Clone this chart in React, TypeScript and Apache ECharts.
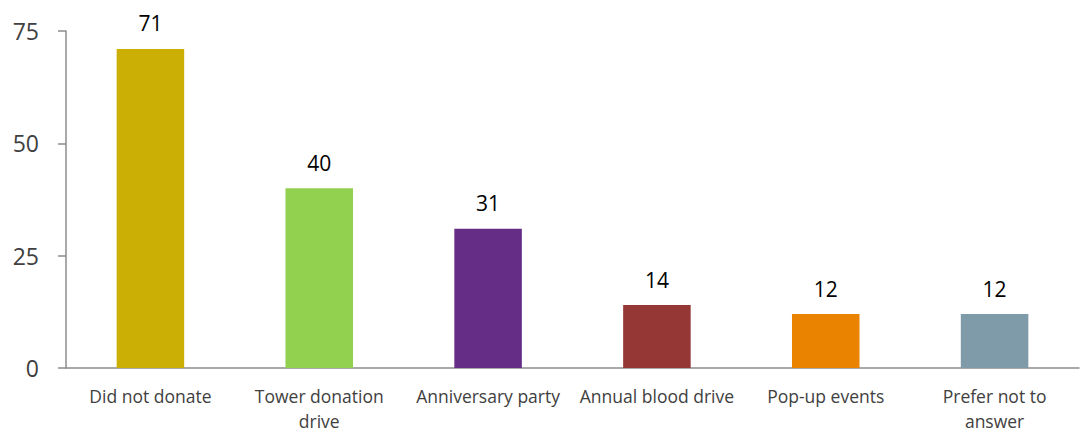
import React, { useEffect, useRef } from "react";
import * as echarts from "echarts";

const categories = [
  "Did not donate",
  "Tower donation\ndrive",
  "Anniversary party",
  "Annual blood drive",
  "Pop-up events",
  "Prefer not to\nanswer",
];
const values = [71, 40, 31, 14, 12, 12];
const colors = ["#CBAF05", "#92D050", "#652D86", "#953735", "#E98300", "#7F9BAA"];
const yTicks = { min: 0, max: 75, interval: 25 };

export default function App() {
  const ref = useRef<HTMLDivElement>(null);
  useEffect(() => {
    const chart = echarts.init(ref.current!, null, { renderer: "svg" });
    chart.setOption({
      animation: false,
      grid: { left: 66, right: 7, top: 31, bottom: 65 },
      xAxis: {
        type: "category",
        data: categories,
        axisLine: { lineStyle: { color: "#8c8c8c", width: 1.5 } },
        axisTick: { length: 6, lineStyle: { color: "#8c8c8c", width: 1.5 } },
        axisLabel: {
          color: "#404040",
          fontFamily: "Open Sans",
          fontSize: 17.5,
          lineHeight: 25,
          margin: 15,
          interval: 0,
        },
      },
      yAxis: {
        type: "value",
        min: yTicks.min,
        max: yTicks.max,
        interval: yTicks.interval,
        axisLine: { show: true, lineStyle: { color: "#8c8c8c", width: 1.5 } },
        axisTick: { show: true, length: 8, lineStyle: { color: "#8c8c8c", width: 1.5 } },
        splitLine: { show: false },
        axisLabel: {
          color: "#404040",
          fontFamily: "Open Sans",
          fontSize: 23,
          margin: 27,
        },
      },
      series: [
        {
          type: "bar",
          barWidth: "40%",
          data: values.map((v, i) => ({ value: v, itemStyle: { color: colors[i] } })),
          label: {
            show: true,
            position: "top",
            distance: 15,
            color: "#000",
            fontFamily: "Open Sans",
            fontSize: 21,
          },
        },
      ],
    });
    return () => chart.dispose();
  }, []);
  return <div ref={ref} style={{ width: 1086, height: 433, position: "absolute", left: 0, top: 0 }} />;
}
